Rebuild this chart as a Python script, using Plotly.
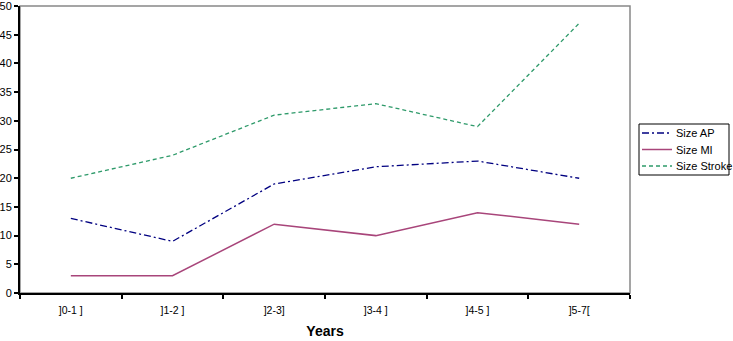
import plotly.graph_objects as go

categories = [']0-1 ]', ']1-2 ]', ']2-3]', ']3-4 ]', ']4-5 ]', ']5-7[']
size_ap = [13, 9, 19, 22, 23, 20]
size_mi = [3, 3, 12, 10, 14, 12]
size_stroke = [20, 24, 31, 33, 29, 47]
series_names = ['Size AP', 'Size MI', 'Size Stroke']

W, H = 733, 341
L, R, T, B = 20, 103, 6, 48
PW, PH = W - L - R, H - T - B

def px(x):
    return (x - L) / PW

def py(y):
    return (H - B - y) / PH

styles = [
    dict(color='#000080', width=1.3, dash='7px,3px,2px,3px'),
    dict(color='#A8457A', width=1.5),
    dict(color='#2E9A6A', width=1.3, dash='4px,3px'),
]

fig = go.Figure()
for name, vals, st in zip(series_names, [size_ap, size_mi, size_stroke], styles):
    fig.add_trace(go.Scatter(x=categories, y=vals, mode='lines', name=name, line=st))

shapes = [dict(type='rect', xref='paper', yref='paper', x0=0, x1=1, y0=0, y1=1,
               line=dict(color='#888888', width=1.5), layer='below'),
          dict(type='rect', xref='paper', yref='paper', x0=px(639), x1=px(729),
               y0=py(175), y1=py(124), line=dict(color='black', width=1),
               fillcolor='white')]
annotations = []
for i, (name, st) in enumerate(zip(series_names, styles)):
    yc = 133 + i * 16.5
    shapes.append(dict(type='line', xref='paper', yref='paper', x0=px(642), x1=px(672),
                       y0=py(yc), y1=py(yc), line=st))
    annotations.append(dict(text=name, xref='paper', yref='paper', x=px(674), y=py(yc),
                            xanchor='left', yanchor='middle', showarrow=False,
                            font=dict(size=11)))

fig.update_layout(
    width=W, height=H,
    margin=dict(l=L, r=R, t=T, b=B, autoexpand=False),
    plot_bgcolor='white', paper_bgcolor='white',
    font=dict(family='Liberation Sans, Arial', size=11, color='black'),
    showlegend=False,
    shapes=shapes, annotations=annotations,
)
fig.update_xaxes(
    type='category', range=[-0.5, 5.5], tickson='boundaries', automargin=False,
    ticks='outside', ticklen=4, tickcolor='black', tickwidth=1.5,
    showline=True, linecolor='black', linewidth=2, showgrid=False,
    tickfont=dict(size=10.5), ticklabelstandoff=6, ticklabeloverflow='allow',
    title=dict(text='<b>Years</b>', font=dict(size=14), standoff=12),
)
fig.update_yaxes(
    range=[0, 50.02], tickvals=list(range(0, 51, 5)), ticks='outside', ticklen=4,
    tickcolor='black', tickwidth=1.5, ticklabeloverflow='allow',
    showline=True, linecolor='black', linewidth=2, showgrid=False, zeroline=False,
    automargin=False, tickfont=dict(size=11),
)

fig.write_html('out.html', config=dict(displayModeBar=False),
               post_script="document.body.style.margin='0';document.body.style.overflow='hidden';")
